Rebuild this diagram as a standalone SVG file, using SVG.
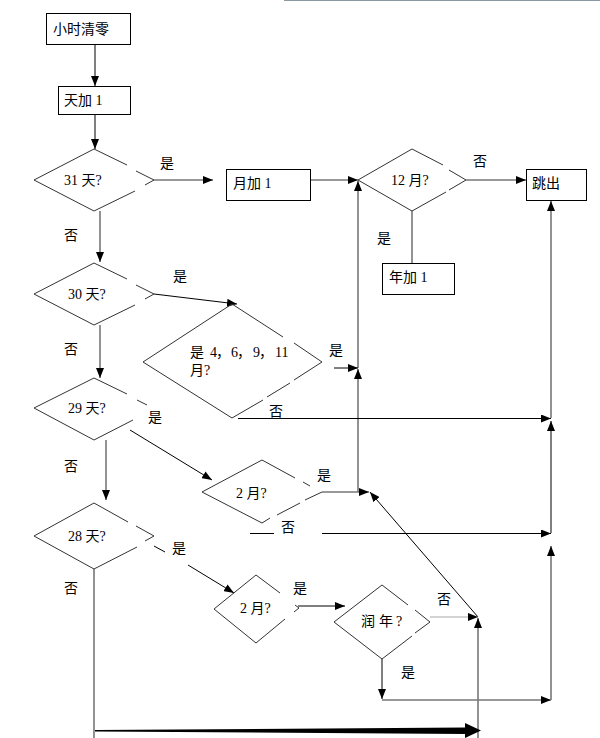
<svg xmlns="http://www.w3.org/2000/svg" width="600" height="738" viewBox="0 0 600 738">
<defs>
<style>
.box{fill:#fff;stroke:#000;stroke-width:1}
.dia{fill:none;stroke:#333;stroke-width:1}
.t{font-family:"Liberation Serif","Noto Sans CJK SC",serif;font-size:14px;fill:#000}
.g{stroke:#777;stroke-width:1.6;fill:none}
.k{stroke:#000;stroke-width:1;fill:none}
.lg{stroke:#aaa;stroke-width:1.2;fill:none}
</style>
<marker id="ah" viewBox="0 0 10 8" refX="10" refY="4" markerWidth="10" markerHeight="8" markerUnits="userSpaceOnUse" orient="auto">
<path d="M0,0 L10,4 L0,8 z" fill="#000"/>
</marker>
</defs>
<rect width="600" height="738" fill="#fff"/>
<line x1="284" y1="0.5" x2="600" y2="0.5" stroke="#8a98a2" stroke-width="1.2"/>

<g id="connectors">
<line class="k" x1="95" y1="44" x2="95" y2="86" marker-end="url(#ah)"/>
<line class="k" x1="95" y1="114" x2="95" y2="149" marker-end="url(#ah)"/>
<line class="g" x1="154" y1="180" x2="213" y2="180" marker-end="url(#ah)"/>
<line class="g" x1="310" y1="180" x2="358" y2="180" marker-end="url(#ah)"/>
<line class="g" x1="466" y1="180" x2="526" y2="180" marker-end="url(#ah)"/>
<line class="g" x1="412" y1="211" x2="412" y2="263"/>
<line class="g" x1="358" y1="492" x2="358" y2="369" marker-end="url(#ah)"/>
<line class="g" x1="358" y1="368" x2="358" y2="181" marker-end="url(#ah)"/>
<line class="g" x1="100" y1="211" x2="100" y2="262" marker-end="url(#ah)"/>
<line class="k" x1="154" y1="294" x2="237" y2="304" marker-end="url(#ah)"/>
<line class="g" x1="100" y1="325" x2="100" y2="378" marker-end="url(#ah)"/>
<line class="k" x1="334" y1="368" x2="358" y2="368" marker-end="url(#ah)"/>
<line class="k" x1="238" y1="418.5" x2="551" y2="418.5" marker-end="url(#ah)"/>
<line class="k" x1="551" y1="533" x2="551" y2="421" marker-end="url(#ah)"/>
<line class="g" x1="551" y1="418" x2="551" y2="201" marker-end="url(#ah)"/>
<line class="g" x1="106" y1="440" x2="106" y2="500" marker-end="url(#ah)"/>
<line class="k" x1="130" y1="430" x2="212" y2="480" marker-end="url(#ah)"/>
<line class="g" x1="322" y1="492" x2="369" y2="492" marker-end="url(#ah)"/>
<line class="k" x1="250" y1="533.5" x2="274" y2="533.5"/>
<line class="k" x1="322" y1="533.5" x2="551" y2="533.5" marker-end="url(#ah)"/>
<line class="k" x1="478" y1="617" x2="370" y2="492" marker-end="url(#ah)"/>
<line class="k" x1="154" y1="546" x2="165" y2="552"/>
<line class="k" x1="188" y1="565" x2="234" y2="593" marker-end="url(#ah)"/>
<line class="k" x1="298" y1="606" x2="345" y2="606" marker-end="url(#ah)"/>
<line class="lg" x1="430" y1="617" x2="478" y2="617" marker-end="url(#ah)"/>
<line class="g" x1="478" y1="738" x2="478" y2="618" marker-end="url(#ah)"/>
<line class="k" x1="382" y1="659" x2="382" y2="699" marker-end="url(#ah)"/>
<line class="g" x1="382" y1="700" x2="551" y2="700" marker-end="url(#ah)"/>
<line class="g" x1="551" y1="700" x2="551" y2="546" marker-end="url(#ah)"/>
<line class="g" x1="94" y1="569" x2="94" y2="738"/>
<polygon points="95,730 465,727.5 465,723 481,730.5 465,738 465,734 95,731.5" fill="#000"/>
</g>

<g id="n-clear">
<rect class="box" x="46.5" y="13.5" width="84" height="31"/>
<text class="t" x="53" y="34">小时清零</text>
</g>
<g id="n-dayinc">
<rect class="box" x="58.5" y="86.5" width="72" height="28"/>
<text class="t" x="64" y="105">天加 1</text>
</g>
<g id="n-d31">
<path class="dia" d="M136,171 L154,180 L145,185 M135,191 L94,211 L34,180 L94,149 L127,165"/>
<text class="t" x="64" y="185">31 天?</text>
<text class="t" x="160" y="168">是</text>
<text class="t" x="64" y="240">否</text>
</g>
<g id="n-moninc">
<rect class="box" x="226.5" y="169.5" width="84" height="31"/>
<text class="t" x="233" y="188">月加 1</text>
</g>
<g id="n-d12">
<path class="dia" d="M449,170 L466,180 L449,190 M446,192 L412,211 L358,180 L412,149 L443,165"/>
<text class="t" x="391" y="185">12 月?</text>
<text class="t" x="473" y="166">否</text>
<text class="t" x="377" y="243">是</text>
</g>
<g id="n-exit">
<rect class="box" x="526.5" y="169.5" width="60" height="31"/>
<text class="t" x="532" y="188">跳出</text>
</g>
<g id="n-yearinc">
<rect class="box" x="382.5" y="263.5" width="72" height="31"/>
<text class="t" x="389" y="282">年加 1</text>
</g>
<g id="n-d30">
<path class="dia" d="M136,285 L154,294 L145,299 M135,305 L94,325 L34,294 L94,263 L127,279"/>
<text class="t" x="68" y="299">30 天?</text>
<text class="t" x="173" y="281">是</text>
<text class="t" x="64" y="354">否</text>
</g>
<g id="n-d4691">
<path class="dia" d="M294,343 L322,362 L294,380 M290,383 L267,397 M263,400 L232,418 L143,362 L232,304 L283,337"/>
<text class="t" y="357"><tspan x="190">是</tspan><tspan x="210">4</tspan><tspan x="216">，</tspan><tspan x="231">6</tspan><tspan x="237">，</tspan><tspan x="253">9</tspan><tspan x="259">，</tspan><tspan x="275">11</tspan></text>
<text class="t" x="190" y="375">月?</text>
<text class="t" x="329" y="355">是</text>
<text class="t" x="269" y="416">否</text>
</g>
<g id="n-d29">
<path class="dia" d="M94,378 L127,394 M137,400 L147,405 M133,420 L94,440 L34,408 L94,378"/>
<text class="t" x="68" y="413">29 天?</text>
<text class="t" x="148" y="422">是</text>
<text class="t" x="64" y="471">否</text>
</g>
<g id="n-feb1">
<path class="dia" d="M262,460 L295,478 M303,482 L310,486 M322,492 L305,500 M300,503 L277,515 M270,518 L262,523 L202,492 L262,460"/>
<text class="t" x="236" y="498">2 月?</text>
<text class="t" x="317" y="480">是</text>
<text class="t" x="281" y="532">否</text>
</g>
<g id="n-d28">
<path class="dia" d="M136,526 L154,536 L145,541 M137,547 L94,569 L34,536 L94,503 L128,522"/>
<text class="t" x="68" y="541">28 天?</text>
<text class="t" x="172" y="553">是</text>
<text class="t" x="64" y="593">否</text>
</g>
<g id="n-feb2">
<path class="dia" d="M256,575 L280,593 M295,605 L299,608 L294,612 M285,619 L256,643 L214,609 L256,575"/>
<text class="t" x="240" y="613">2 月?</text>
<text class="t" x="293" y="593">是</text>
</g>
<g id="n-leap">
<path class="dia" d="M382,585 L408,605 M415,610 L430,622 L415,633 M412,636 L382,659 L334,622 L382,585"/>
<text class="t" y="626"><tspan x="361">润</tspan><tspan x="379">年</tspan><tspan x="396">?</tspan></text>
<text class="t" x="437" y="604">否</text>
<text class="t" x="401" y="677">是</text>
</g>
</svg>
